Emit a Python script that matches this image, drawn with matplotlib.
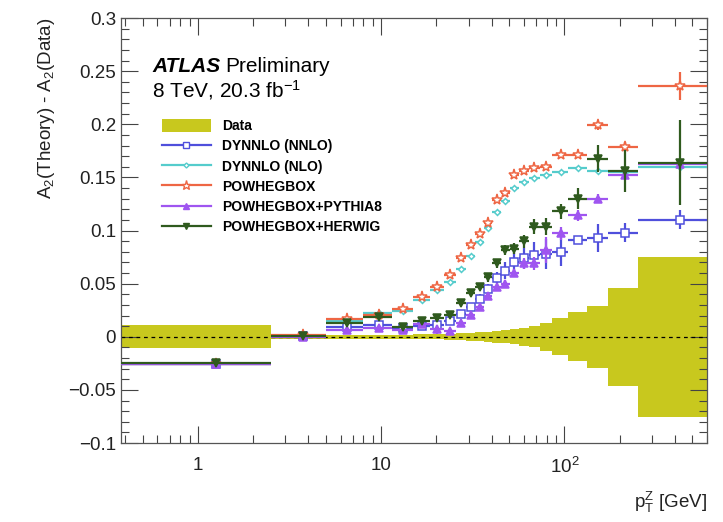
import numpy as np
import matplotlib
matplotlib.use("Agg")
import matplotlib.pyplot as plt
from matplotlib.ticker import FixedLocator, FuncFormatter, MultipleLocator, NullFormatter, LogLocator
from matplotlib.patches import Patch
from matplotlib.lines import Line2D

plt.rcParams['font.family'] = ['Liberation Sans', 'DejaVu Sans']
plt.rcParams['mathtext.fontset'] = 'custom'
plt.rcParams['mathtext.rm'] = 'Liberation Sans'
plt.rcParams['mathtext.it'] = 'Liberation Sans:italic'
plt.rcParams['mathtext.bf'] = 'Liberation Sans:bold'

# ---- data ----
edges = [0, 2.5, 5.0, 8.0, 11.4, 14.9, 18.5, 22.0, 25.5, 29.0, 32.6, 36.4, 40.4,
         44.9, 50.2, 56.4, 63.9, 73.4, 85.4, 105.0, 132.0, 173.0, 253.0, 600.0]

data_unc = [0.011, 0.0025, 0.002, 0.002, 0.002, 0.0022, 0.0025, 0.003, 0.0033, 0.0037,
            0.0042, 0.0048, 0.0055, 0.0063, 0.0072, 0.0085, 0.010, 0.013, 0.0175,
            0.023, 0.029, 0.046, 0.0755]

nnlo = [-0.026, 0.001, 0.009, 0.011, 0.008, 0.010, 0.011, 0.015, 0.021, 0.028, 0.036,
        0.045, 0.055, 0.062, 0.070, 0.074, 0.077, 0.078, 0.080, 0.091, 0.093, 0.098, 0.110]
nnlo_err = [0.001, 0.001, 0.001, 0.001, 0.001, 0.002, 0.002, 0.003, 0.003, 0.003, 0.004,
            0.005, 0.006, 0.008, 0.009, 0.010, 0.012, 0.014, 0.013, 0.004, 0.013, 0.009, 0.009]

nlo = [-0.026, 0.001, 0.0145, 0.022, 0.024, 0.035, 0.044, 0.052, 0.064, 0.076, 0.089,
       0.102, 0.117, 0.128, 0.140, 0.146, 0.149, 0.152, 0.155, 0.159, 0.156, 0.155, 0.160]
nlo_err = [0.001, 0.001, 0.001, 0.001, 0.001, 0.001, 0.001, 0.001, 0.001, 0.001, 0.001,
           0.001, 0.001, 0.001, 0.001, 0.001, 0.002, 0.002, 0.002, 0.002, 0.002, 0.003, 0.003]

powheg = [-0.026, 0.002, 0.0166, 0.0206, 0.026, 0.037, 0.047, 0.058, 0.074, 0.086, 0.097,
          0.107, 0.129, 0.135, 0.152, 0.156, 0.159, 0.160, 0.171, 0.171, 0.199, 0.1785, 0.236]
powheg_err = [0.001, 0.001, 0.001, 0.001, 0.001, 0.001, 0.001, 0.001, 0.001, 0.001, 0.001,
              0.001, 0.001, 0.001, 0.002, 0.002, 0.002, 0.002, 0.002, 0.003, 0.004, 0.005, 0.013]

py8 = [-0.026, 0.000, 0.0066, 0.008, 0.006, 0.012, 0.007, 0.005, 0.013, 0.0206, 0.028,
       0.038, 0.047, 0.050, 0.060, 0.069, 0.069, 0.0816, 0.0975, 0.1144, 0.130, 0.152, 0.163]
py8_err = [0.002, 0.001, 0.001, 0.001, 0.002, 0.002, 0.004, 0.002, 0.002, 0.002, 0.002,
           0.003, 0.003, 0.003, 0.004, 0.005, 0.006, 0.012, 0.006, 0.005, 0.004, 0.004, 0.004]

herwig = [-0.025, 0.001, 0.0134, 0.0185, 0.009, 0.0144, 0.018, 0.0206, 0.032, 0.041, 0.047,
          0.056, 0.069, 0.0816, 0.083, 0.090, 0.1035, 0.1035, 0.118, 0.130, 0.1676, 0.156, 0.164]
herwig_err = [0.002, 0.001, 0.002, 0.002, 0.002, 0.002, 0.002, 0.002, 0.003, 0.003, 0.003,
              0.004, 0.004, 0.005, 0.005, 0.006, 0.007, 0.008, 0.007, 0.010, 0.013, 0.020, 0.040]

labels = ["Data", "DYNNLO (NNLO)", "DYNNLO (NLO)", "POWHEGBOX",
          "POWHEGBOX+PYTHIA8", "POWHEGBOX+HERWIG"]

# ---- figure ----
XMIN, XMAX = 0.38, 600.0
fig = plt.figure(figsize=(7.23, 5.22), dpi=100)
ax = fig.add_axes([121/723, 79/522, 586/723, 425/522])
ax.set_xscale('log')
ax.set_xlim(XMIN, XMAX)
ax.set_ylim(-0.1, 0.3)

e = np.array(edges, dtype=float)
e_plot = np.maximum(e, XMIN * 0.5)
lo, hi = e_plot[:-1], e_plot[1:]
xc = 0.5 * (e[:-1] + e[1:])
du = np.array(data_unc)

band_col = '#c8c81e'
ax.stairs(du, e_plot, baseline=-du, fill=True, color=band_col, lw=0, zorder=1)
ax.axhline(0, color='black', lw=0.9, ls=(0, (3, 3)), zorder=2)

series = [
    (nnlo, nnlo_err, '#4f4fdc', 's', 'white', 5.5),
    (nlo, nlo_err, '#55cccc', 'D', 'white', 3.0),
    (powheg, powheg_err, '#ee6644', '*', 'white', 8),
    (py8, py8_err, '#9f55f0', '^', '#9f55f0', 5.5),
    (herwig, herwig_err, '#2f5a1e', 'v', '#2f5a1e', 5.5),
]
handles = [Patch(facecolor=band_col, edgecolor='none')]
for i, (y, err, col, mk, mfc, ms) in enumerate(series):
    y = np.array(y)
    ax.errorbar(xc, y, xerr=[xc - lo, hi - xc], yerr=err, fmt=mk, color=col,
                mfc=mfc, mec=col, ms=ms, mew=1.1, elinewidth=1.6, capsize=0,
                zorder=3 + i)
    handles.append(Line2D([], [], color=col, marker=mk, mfc=mfc, mec=col,
                          ms=ms * 0.85, lw=1.6, mew=1.0))

# ---- axes styling ----
ax.tick_params(which='both', direction='in', top=True, right=True, labelsize=13.5,
               width=0.8, colors='#444444', labelcolor='#222222')
ax.tick_params(which='major', length=12)
ax.tick_params(which='minor', length=6)
ax.tick_params(axis='x', which='major', pad=10)
ax.xaxis.set_major_locator(FixedLocator([1, 10, 100]))
ax.xaxis.set_minor_locator(LogLocator(base=10, subs=np.arange(2, 10)))
ax.xaxis.set_minor_formatter(NullFormatter())

def xfmt(v, pos):
    if abs(v - 100) < 1e-6:
        return r'$\mathregular{10^{2}}$'
    return '%g' % v
ax.xaxis.set_major_formatter(FuncFormatter(xfmt))

ax.yaxis.set_major_locator(MultipleLocator(0.05))
ax.yaxis.set_minor_locator(MultipleLocator(0.01))
ax.yaxis.set_major_formatter(FuncFormatter(
    lambda v, p: ('%g' % round(v, 3)).replace('-', '\u2212') if abs(v) > 1e-9 else '0'))
for s in ax.spines.values():
    s.set_color('#555555')
    s.set_linewidth(0.9)

ax.set_ylabel(r'$\mathregular{A_2}$(Theory) - $\mathregular{A_2}$(Data)', fontsize=13.5,
              loc='top', color='#222222', labelpad=8)
ax.set_xlabel(r'$\mathregular{p_T^Z}$ [GeV]', fontsize=13.5, loc='right',
              color='#222222', labelpad=9)

# ---- text ----
t1 = ax.text(0.053, 0.873, 'ATLAS', transform=ax.transAxes, fontsize=15,
             fontweight='bold', fontstyle='italic', va='baseline', ha='left')
ax.annotate('Preliminary', xy=(1, 0), xycoords=t1, xytext=(4, 0),
            textcoords='offset points', fontsize=15, va='bottom', ha='left')
ax.text(0.053, 0.814, r'8 TeV, 20.3 fb$\mathregular{^{-1}}$', transform=ax.transAxes,
        fontsize=15, va='baseline', ha='left')

leg = ax.legend(handles, labels, loc='upper left', bbox_to_anchor=(0.07, 0.762),
                frameon=False, prop={'weight': 'bold', 'size': 10},
                handlelength=3.5, handleheight=1.0, labelspacing=0.45,
                handletextpad=0.8, borderpad=0, borderaxespad=0)

fig.savefig('out.png', dpi=100)
